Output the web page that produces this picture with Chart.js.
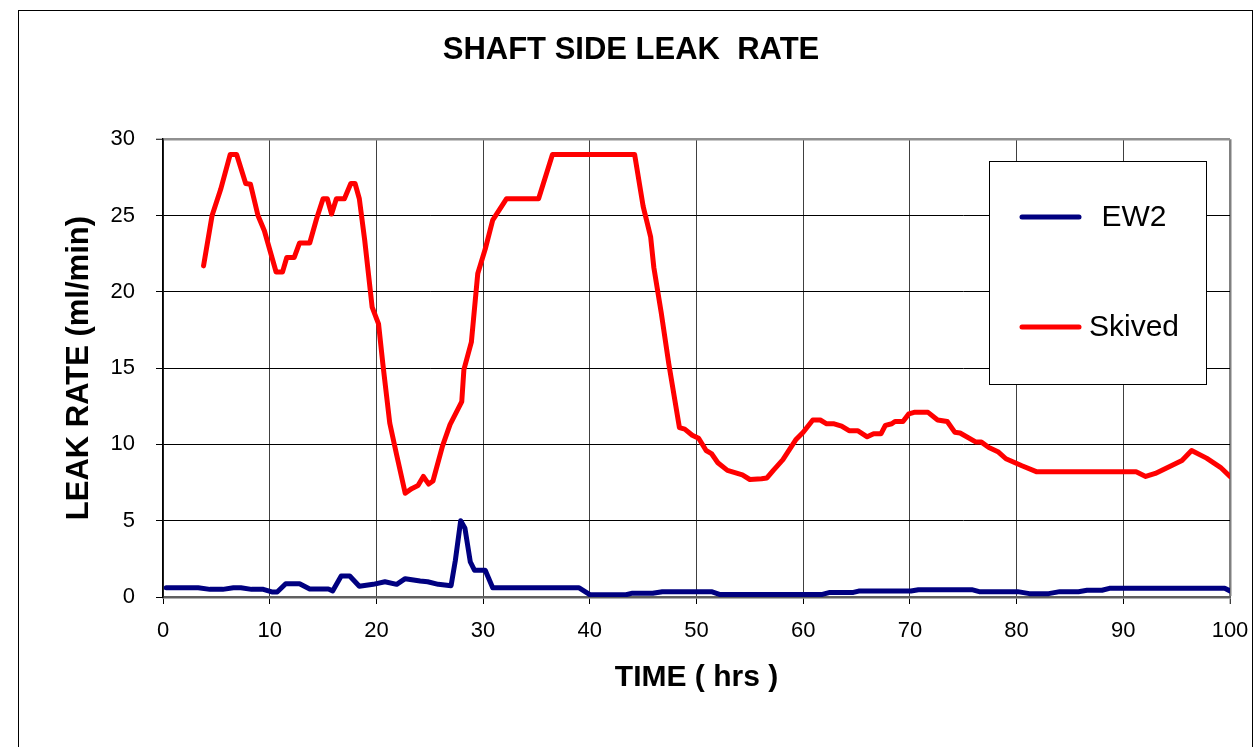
<!DOCTYPE html>
<html>
<head>
<meta charset="utf-8">
<script src="https://cdn.jsdelivr.net/npm/chart.js@4/dist/chart.umd.min.js"></script>
<style>
  html, body { margin: 0; padding: 0; background: #fff; overflow: hidden; }
  #wrap { width: 1258px; height: 747px; position: relative; }
</style>
</head>
<body>
<div id="wrap"><canvas id="c"></canvas></div>
<script>
// ---- data ----
const chartTitle = 'SHAFT SIDE LEAK  RATE';
const xTitle = 'TIME ( hrs )';
const yTitle = 'LEAK RATE (ml/min)';
const seriesNames = ['EW2', 'Skived'];

const ew2Hours = [0.3,3.3,4.4,5.6,6.6,7.3,8.3,9.4,10.2,10.7,11.5,12.8,13.75,15.5,15.9,16.7,17.5,18.4,19.7,20.8,21.9,22.7,24.1,24.8,25.8,27.0,27.4,27.9,28.3,28.8,29.2,30.2,30.9,39.0,40.0,43.4,44.0,45.9,46.8,51.4,52.15,61.8,62.5,64.7,65.2,70.1,70.8,75.8,76.5,80.1,81.2,83.0,84.05,85.8,86.6,88.0,88.7,99.5,100];
const ew2Rate  = [0.6,0.6,0.5,0.5,0.6,0.6,0.5,0.5,0.33,0.33,0.87,0.87,0.52,0.52,0.4,1.38,1.38,0.7,0.83,1.0,0.83,1.2,1.05,1.0,0.83,0.74,2.4,5.0,4.5,2.3,1.75,1.75,0.6,0.6,0.15,0.15,0.25,0.25,0.35,0.35,0.17,0.17,0.3,0.3,0.39,0.39,0.48,0.48,0.35,0.35,0.22,0.22,0.35,0.35,0.44,0.44,0.57,0.57,0.4];

const skivedHours = [3.8,4.6,5.4,6.3,6.9,7.75,8.2,8.9,9.5,10.6,11.2,11.6,12.3,12.8,13.75,14.4,15.0,15.4,15.8,16.25,17.0,17.6,18.0,18.4,18.9,19.6,20.2,20.6,21.25,21.9,22.7,23.3,23.9,24.4,24.9,25.3,26.2,26.9,28.0,28.2,28.9,29.5,30.2,30.9,32.2,35.2,36.5,44.2,45.0,45.7,46.0,46.7,47.4,48.4,48.9,49.6,50.2,50.9,51.4,52.0,52.9,54.3,55.0,56.1,56.6,57.2,58.1,59.3,60.0,60.9,61.6,62.2,62.9,63.6,64.3,65.1,66.0,66.6,67.3,67.7,68.3,68.6,69.35,69.9,70.4,71.7,72.6,73.5,74.2,74.7,76.2,76.7,77.4,78.3,79.0,80.5,81.9,91.2,92.1,93.0,95.5,96.4,97.8,99.1,100];
const skivedRate  = [21.7,25.0,26.7,29.0,29.0,27.1,27.05,25.0,24.0,21.3,21.3,22.25,22.25,23.2,23.2,24.8,26.1,26.1,25.1,26.1,26.1,27.1,27.1,26.1,23.4,19.0,17.9,15.3,11.4,9.3,6.8,7.1,7.3,7.9,7.4,7.6,9.9,11.3,12.8,14.9,16.7,21.2,22.8,24.7,26.1,26.1,29.0,29.0,25.6,23.6,21.6,18.6,15.3,11.1,11.0,10.6,10.4,9.6,9.4,8.8,8.3,8.0,7.7,7.75,7.8,8.3,9.0,10.3,10.8,11.6,11.6,11.35,11.35,11.2,10.9,10.9,10.5,10.7,10.7,11.25,11.35,11.5,11.5,12.0,12.1,12.1,11.6,11.5,10.8,10.75,10.15,10.15,9.8,9.5,9.06,8.6,8.2,8.2,7.9,8.1,8.95,9.6,9.1,8.5,7.9];

const xTicksStep = 10, xMin = 0, xMax = 100;
const yTicksStep = 5, yMin = 0, yMax = 30;

// ---- helpers ----
const FONT = '"Liberation Sans", Arial, sans-serif';
const toPoints = (xs, ys) => xs.map((x, i) => ({ x: x, y: ys[i] }));

const frame = {
  id: 'frame',
  beforeDraw(chart) {
    const ctx = chart.ctx;
    ctx.save();
    ctx.fillStyle = '#fff';
    ctx.fillRect(0, 0, chart.width, chart.height);
    ctx.strokeStyle = '#000';
    ctx.lineWidth = 1;
    ctx.strokeRect(18.5, 10.5, 1234, 800);
    ctx.restore();
  }
};

const boxLegend = {
  id: 'boxLegend',
  afterDraw(chart) {
    const ctx = chart.ctx;
    ctx.save();
    ctx.fillStyle = '#fff';
    ctx.fillRect(989.5, 161.5, 217, 223);
    ctx.strokeStyle = '#000';
    ctx.lineWidth = 1;
    ctx.strokeRect(989.5, 161.5, 217, 223);
    const rows = [217, 327];
    chart.data.datasets.forEach((ds, i) => {
      const y = rows[i];
      ctx.strokeStyle = ds.borderColor;
      ctx.lineWidth = 5;
      ctx.lineCap = 'round';
      ctx.beginPath();
      ctx.moveTo(1022, y);
      ctx.lineTo(1079, y);
      ctx.stroke();
      ctx.fillStyle = '#000';
      ctx.font = '30px ' + FONT;
      ctx.textAlign = 'center';
      ctx.textBaseline = 'middle';
      ctx.fillText(ds.label, 1134, y + 1);
    });
    ctx.restore();
  }
};

new Chart(document.getElementById('c'), {
  type: 'line',
  data: {
    datasets: [
      {
        label: seriesNames[0],
        data: toPoints(ew2Hours, ew2Rate),
        borderColor: '#000080',
        backgroundColor: '#000080',
        borderWidth: 5,
        pointRadius: 0,
        tension: 0,
        borderJoinStyle: 'round',
        borderCapStyle: 'round'
      },
      {
        label: seriesNames[1],
        data: toPoints(skivedHours, skivedRate),
        borderColor: '#FF0000',
        backgroundColor: '#FF0000',
        borderWidth: 5,
        pointRadius: 0,
        tension: 0,
        borderJoinStyle: 'round',
        borderCapStyle: 'round'
      }
    ]
  },
  options: {
    responsive: true,
    maintainAspectRatio: false,
    animation: false,
    layout: { padding: { left: 32, right: 28, top: 10, bottom: 0 } },
    plugins: {
      legend: { display: false },
      tooltip: { enabled: false },
      title: {
        display: true,
        text: chartTitle,
        color: '#000',
        font: { family: FONT, size: 31, weight: 'bold' },
        padding: { top: 22, bottom: 70 }
      }
    },
    scales: {
      x: {
        type: 'linear',
        min: xMin, max: xMax,
        afterFit(scale) { scale.height = 150; },
        ticks: {
          stepSize: xTicksStep,
          color: '#000',
          font: { family: FONT, size: 22, lineHeight: 2.1 },
          padding: 4,
          maxRotation: 0
        },
        grid: {
          color: (c) => (c.tick && c.tick.value === xMax) ? '#808080' : '#404040',
          lineWidth: (c) => (c.tick && c.tick.value === xMax) ? 2.5 : 1,
          tickColor: '#000',
          tickWidth: 1,
          tickLength: 7
        },
        border: { display: true, color: '#606060', width: 2.5 },
        title: {
          display: true,
          text: xTitle,
          color: '#000',
          font: { family: FONT, size: 30, weight: 'bold' },
          padding: { top: 0, bottom: 51 }
        }
      },
      y: {
        min: yMin, max: yMax,
        afterFit(scale) { scale.width = 131; },
        ticks: {
          stepSize: yTicksStep,
          color: '#000',
          font: { family: FONT, size: 22 },
          padding: 21
        },
        grid: {
          color: (c) => (c.tick && c.tick.value === yMax) ? '#909090' : '#000',
          lineWidth: (c) => (c.tick && c.tick.value === yMax) ? 2.5 : 1,
          tickColor: '#000',
          tickWidth: 1,
          tickLength: 7
        },
        border: { display: true, color: '#000', width: 1.5 },
        title: {
          display: true,
          text: yTitle,
          color: '#000',
          font: { family: FONT, size: 31, weight: 'bold' },
          padding: { top: 29, bottom: 0 }
        }
      }
    }
  },
  plugins: [frame, boxLegend]
});
</script>
</body>
</html>
